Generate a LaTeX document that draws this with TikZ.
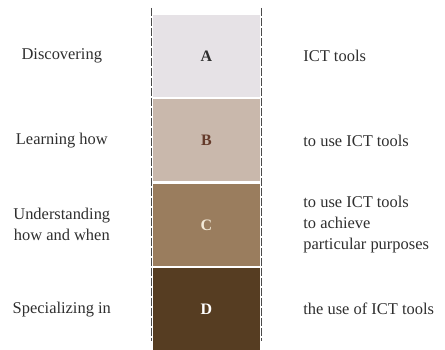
\documentclass[tikz,border=0pt]{standalone}
\usepackage{fontspec}
\setmainfont{Liberation Serif}
\usepackage{tikz}
\usetikzlibrary{positioning}
\definecolor{levelA}{HTML}{E6E2E6}
\definecolor{levelB}{HTML}{C9B8AC}
\definecolor{levelC}{HTML}{9A7D5E}
\definecolor{levelD}{HTML}{563D22}
\definecolor{inkgrey}{HTML}{2E2E2E}
\definecolor{dashgrey}{HTML}{4A4A4A}

\begin{document}
\begin{tikzpicture}[
    x=1bp, y=1bp,
    node distance=2bp,
    level/.style={rectangle, minimum width=107bp, minimum height=82bp, inner sep=0pt, text centered, font=\fontsize{16}{18}\selectfont\bfseries},
    leftlabel/.style={inner sep=0pt, align=center, text=inkgrey, font=\fontsize{16.5}{21}\selectfont},
    rightlabel/.style={inner sep=0pt, align=left, text=inkgrey, font=\fontsize{16.5}{21}\selectfont},
    divider/.style={dashgrey, line width=1.2bp, dash pattern=on 8bp off 2bp}
]
\useasboundingbox (0,0) rectangle (445,-349);
% Levels
\node (A) [level, fill=levelA, text=inkgrey] at (206.5,-56) {A};
\node (B) [level, fill=levelB, text={rgb,255:red,100;green,58;blue,42}, below=of A] {B};
\node (C) [level, fill=levelC, text={rgb,255:red,243;green,234;blue,216}, below=of B] {C};
\node (D) [level, fill=levelD, text=white, below=of C] {D};
% Left labels
\node (discover) [leftlabel] at ([xshift=-91bp]A.west) {Discovering};
\node (learn) [leftlabel] at ([xshift=-91bp]B.west) {Learning how};
\node (understand) [leftlabel] at ([xshift=-91bp]C.west) {Understanding\\how and when};
\node (special) [leftlabel] at ([xshift=-91bp]D.west) {Specializing in};
% Right labels
\node (tools) [rightlabel, right=43bp of A] {ICT tools};
\node (usetools) [rightlabel, right=43bp of B] {to use ICT tools};
\node (purpose) [rightlabel, right=43bp of C] {to use ICT tools\\to achieve\\particular purposes};
\node (useof) [rightlabel, right=43bp of D] {the use of ICT tools};
% Dashed dividers
\coordinate (lt) at ([shift={(-1bp,7bp)}]A.north west);
\coordinate (lb) at ([shift={(-1bp,9bp)}]D.south west);
\coordinate (rt) at ([shift={(1bp,7bp)}]A.north east);
\coordinate (rb) at ([shift={(1bp,9bp)}]D.south east);
\draw [divider] (lt) -- (lb);
\draw [divider] (rt) -- (rb);
\end{tikzpicture}
\end{document}
